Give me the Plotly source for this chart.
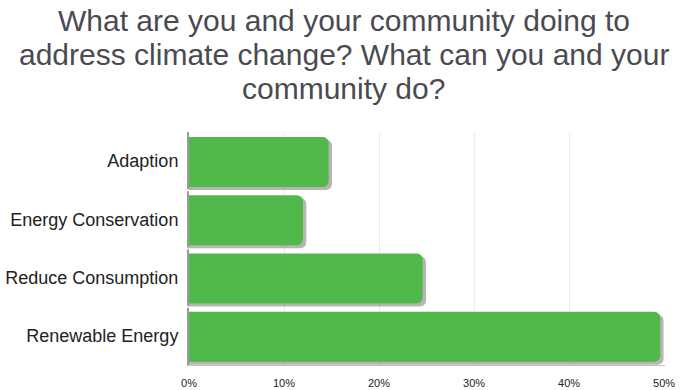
import plotly.graph_objects as go

categories = ["Adaption", "Energy Conservation", "Reduce Consumption", "Renewable Energy"]
values = [14.7, 12.0, 24.6, 49.6]
tick_vals = [0, 10, 20, 30, 40, 50]
tick_text = ["0%", "10%", "20%", "30%", "40%", "50%"]
title_lines = ["What are you and your community doing to",
               "address climate change? What can you and your",
               "community do?"]

W, H = 687, 390
L, R, T, B = 189, 22, 132, 25
PW, PH = W - L - R, H - T - B

fig = go.Figure()
# soft shadow
fig.add_trace(go.Bar(
    y=categories, x=[v + 0.35 for v in values], orientation="h",
    marker=dict(color="rgba(90,90,90,0.45)", cornerradius=6, line=dict(width=0)),
    width=0.86, offset=-0.365, hoverinfo="skip", showlegend=False,
))
fig.add_trace(go.Bar(
    y=categories, x=values, orientation="h",
    marker=dict(color="#51b94a", cornerradius=6, line=dict(width=0)),
    width=0.86, offset=-0.415, showlegend=False,
))

# small breaks in the left axis line between categories
for k in range(1, len(categories)):
    fig.add_shape(type="line", xref="paper", yref="y", layer="above",
                  x0=-0.012, x1=-0.0005, y0=k - 0.5, y1=k - 0.5,
                  line=dict(color="white", width=2))

center_x = (W / 2 - L) / PW
line_centers = [20.5, 54.5, 88.5]  # page y of each title line
for txt, yc in zip(title_lines, line_centers):
    fig.add_annotation(
        text=txt, xref="paper", yref="paper",
        x=center_x, xanchor="center", y=1 + (T - yc) / PH, yanchor="middle",
        showarrow=False, align="center",
        font=dict(family="Liberation Sans, Arial, sans-serif", size=30, color="#4a4a52"),
    )

fig.update_layout(
    width=W, height=H,
    barmode="overlay",
    paper_bgcolor="white", plot_bgcolor="white",
    margin=dict(l=L, r=R, t=T, b=B, autoexpand=False),
    font=dict(family="Liberation Sans, Arial, sans-serif"),
    xaxis=dict(range=[0, 50.1], tickvals=tick_vals, ticktext=tick_text, automargin=False,
               showgrid=True, gridcolor="#ececec", gridwidth=1,
               zeroline=False, showline=True, linecolor="#c4c4c4", linewidth=1,
               tickfont=dict(size=11, color="#222"), ticks="", ticklabelstandoff=8),
    yaxis=dict(categoryorder="array", categoryarray=categories, autorange="reversed",
               automargin=False, showgrid=False, showline=True, linecolor="#9a9a9a", linewidth=2,
               tickfont=dict(size=18, color="#222"), ticks="", ticklabelstandoff=5),
)

fig.write_html("out.html", config={"displayModeBar": False},
               post_script="document.body.style.margin='0';")
